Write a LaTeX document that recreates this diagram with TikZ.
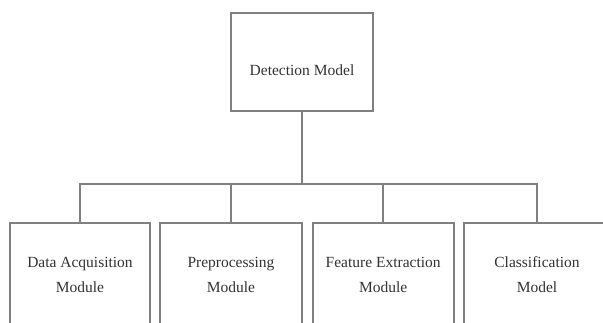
\documentclass[tikz,border=0pt]{standalone}
\usepackage{fontspec}
\setmainfont{Liberation Serif}
\begin{document}
\begin{tikzpicture}[x=1pt,y=-1pt,
  frame/.style={draw=black!50, line width=1.6pt, fill=white, inner sep=0pt,
    text=black!80, font=\fontsize{15.5}{25}\selectfont, align=center},
  caption/.style={inner sep=0pt, text=black!80, font=\fontsize{15.5}{25}\selectfont},
  link/.style={draw=black!50, line width=1.5pt}]
  \useasboundingbox (0,0) rectangle (603,322);
  \clip (0,0) rectangle (603,322);
  % root box and its title, set a little below the middle
  \node[frame, minimum width=142pt, minimum height=98pt] (root) at (302,62) {};
  \node[caption] (roottext) at (302,70) {Detection Model};
  % module boxes (their lower edges run off the page)
  \node[frame, minimum width=140pt, minimum height=104pt] (m1) at (80,275) {Data Acquisition\\Module};
  \node[frame, minimum width=142pt, minimum height=104pt] (m2) at (231,275) {Preprocessing\\Module};
  \node[frame, minimum width=141pt, minimum height=104pt] (m3) at (383.2,275) {Feature Extraction\\Module};
  \node[frame, minimum width=146pt, minimum height=104pt] (m4) at (537,275) {Classification\\Model};
  % bus line
  \coordinate (bus) at (302,184);
  \draw[link] (root.south) -- (bus);
  \draw[link] (m1.north) |- (bus) -| (m4.north);
  \draw[link] (m2.north) -- (m2.north |- bus);
  \draw[link] (m3.north) -- (m3.north |- bus);
\end{tikzpicture}
\end{document}
